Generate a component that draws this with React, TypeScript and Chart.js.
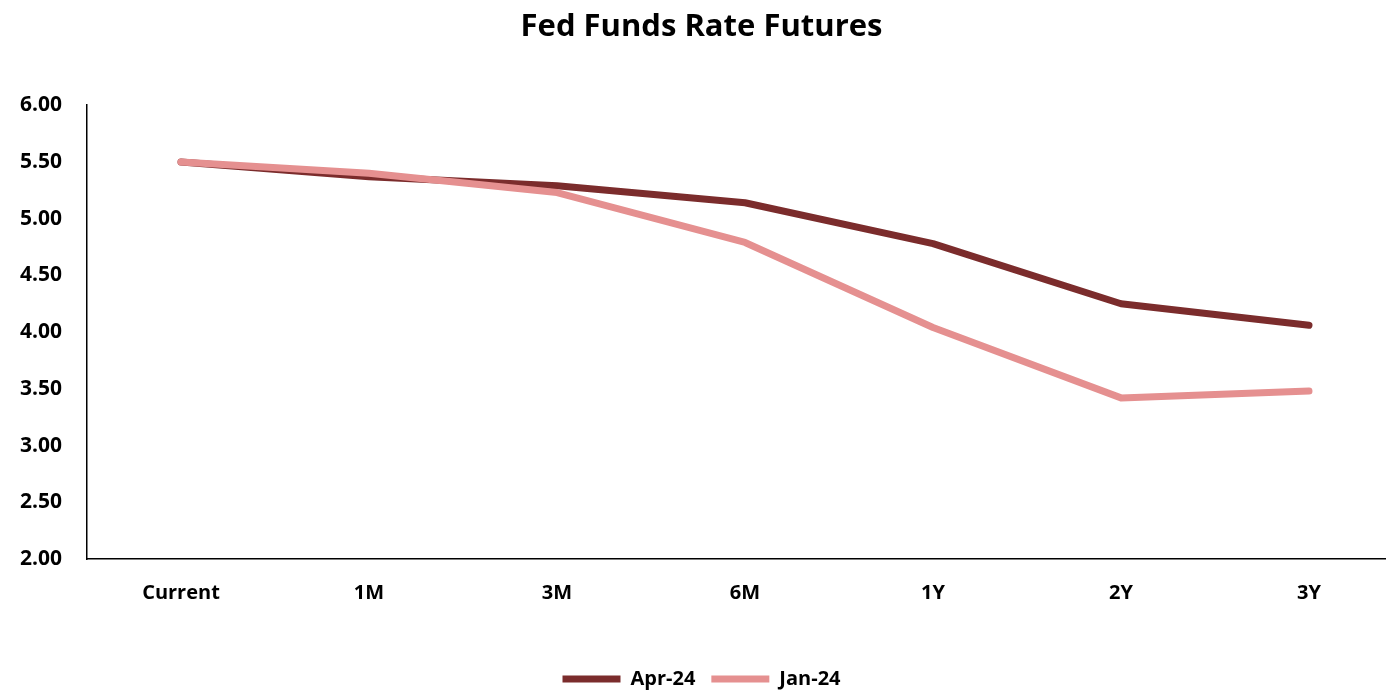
import React, { useEffect, useRef } from "react";
import { Chart, registerables } from "chart.js";

Chart.register(...registerables);

const categories = ["Current", "1M", "3M", "6M", "1Y", "2Y", "3Y"];
const apr24 = [5.5, 5.37, 5.29, 5.14, 4.78, 4.25, 4.06];
const jan24 = [5.5, 5.4, 5.23, 4.79, 4.04, 3.42, 3.48];
const yMin = 2;
const yMax = 6;
const yStep = 0.5;

const FONT = "'Open Sans', sans-serif";
const W = 1403;
const H = 691;

export default function App() {
  const ref = useRef<HTMLCanvasElement | null>(null);
  useEffect(() => {
    document.body.style.margin = "0";
    const ctx = ref.current!.getContext("2d")!;
    const chart = new Chart(ctx, {
      type: "line",
      data: {
        labels: categories,
        datasets: [
          {
            label: "Jan-24",
            data: jan24,
            borderColor: "#E59090",
            backgroundColor: "#E59090",
            borderWidth: 7,
            borderCapStyle: "round",
            borderJoinStyle: "round",
            pointRadius: 0,
            tension: 0,
          },
          {
            label: "Apr-24",
            data: apr24,
            borderColor: "#7B2C2C",
            backgroundColor: "#7B2C2C",
            borderWidth: 7,
            borderCapStyle: "round",
            borderJoinStyle: "round",
            pointRadius: 0,
            tension: 0,
          },
        ],
      },
      options: {
        responsive: false,
        animation: false,
        layout: { padding: { left: 0, right: 0, top: 0, bottom: -8 } },
        plugins: {
          title: {
            display: true,
            text: "Fed Funds Rate Futures",
            color: "#000",
            font: { family: FONT, size: 31, weight: "bold" },
            padding: { top: 9, bottom: 59 },
          },
          legend: {
            position: "bottom",
            reverse: true,
            labels: {
              usePointStyle: true,
              pointStyle: "line",
              pointStyleWidth: 58,
              color: "#000",
              font: { family: FONT, size: 20, weight: "bold" },
              padding: 16,
            },
          },
          tooltip: { enabled: false },
        },
        scales: {
          x: {
            offset: true,
            grid: { display: false, drawTicks: false, offset: true },
            border: { display: true, color: "#000", width: 1.5 },
            ticks: {
              color: "#000",
              font: { family: FONT, size: 20, weight: "bold" },
              padding: 22,
              maxRotation: 0,
            },
            afterFit: (s: any) => {
              s.height = 94;
            },
          },
          y: {
            min: yMin,
            max: yMax,
            grid: { display: false, drawTicks: false },
            border: { display: true, color: "#000", width: 1.5 },
            ticks: {
              stepSize: yStep,
              color: "#000",
              font: { family: FONT, size: 21, weight: "bold" },
              padding: 25,
              callback: (v: any) => Number(v).toFixed(2),
            },
            afterFit: (s: any) => {
              s.width = 87;
            },
          },
        },
      },
    });
    return () => chart.destroy();
  }, []);
  return (
    <div style={{ position: "fixed", left: 0, top: 0, width: 1386, height: H, overflow: "hidden", background: "#fff" }}>
      <canvas ref={ref} width={W} height={H} style={{ width: W, height: H }} />
    </div>
  );
}
